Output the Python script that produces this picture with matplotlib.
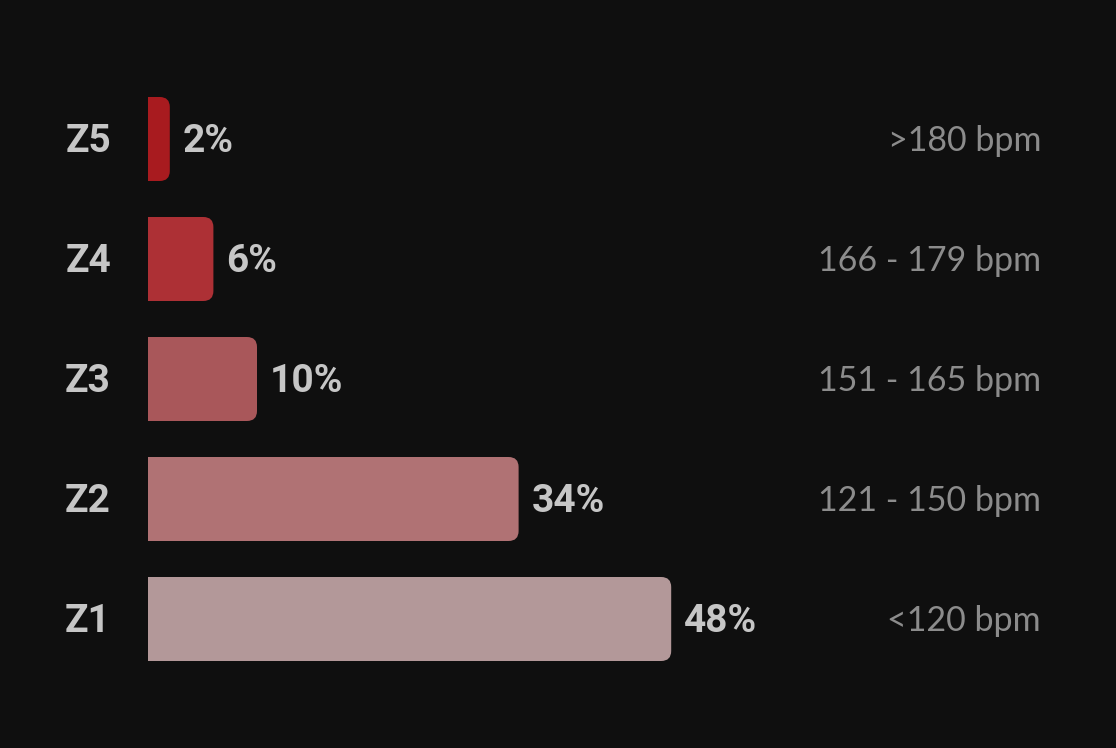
import matplotlib.pyplot as plt
from matplotlib.patches import FancyBboxPatch, Rectangle

# data (bottom to top)
zones = ['Z1', 'Z2', 'Z3', 'Z4', 'Z5']
shares = [48, 34, 10, 6, 2]
ranges = ['<120 bpm', '121 - 150 bpm', '151 - 165 bpm', '166 - 179 bpm', '>180 bpm']
colors = ['#b39899', '#b07274', '#a9575a', '#ad3035', '#a81b1f']

bg = '#0f0f0f'
fig = plt.figure(figsize=(11.16, 7.48), dpi=100, facecolor=bg)
ax = fig.add_axes([0, 0, 1, 1])
ax.set_facecolor(bg)

px_per_x = 10.9   # pixels per percent
px_per_y = 120.0  # pixels per row
ax.set_xlim(-148 / px_per_x, (1116 - 148) / px_per_x)
ax.set_ylim(-129 / px_per_y, (748 - 129) / px_per_y)
ax.axis('off')

h = 0.7
r = 10 / px_per_x
aspect = (10 / px_per_y) / r
dy = -2 / px_per_y  # nudge text down a little
for i, (z, v, rng, c) in enumerate(zip(zones, shares, ranges, colors)):
    y0 = i - h / 2
    # rounded right end, flat left end
    ax.add_patch(FancyBboxPatch((0, y0), v, h,
                                boxstyle=f'round,pad=0,rounding_size={r}',
                                mutation_aspect=aspect, fc=c, ec='none'))
    ax.add_patch(Rectangle((0, y0), min(v / 2, r * 1.5), h, fc=c, ec='none'))
    ax.text(v + 13 / px_per_x, i + dy, f'{v}%', color='#c6c6c6', fontsize=28,
            fontweight='bold', family='Roboto', va='center', ha='left')
    ax.text(-37 / px_per_x, i + dy, z, color='#c6c6c6', fontsize=28,
            fontweight='bold', family='Roboto', va='center', ha='right')
    ax.text((1041 - 148) / px_per_x, i + dy, rng, color='#8c8c8c', fontsize=24.5,
            family='Lato', va='center', ha='right')

fig.savefig('out.png', dpi=100, facecolor=bg)
